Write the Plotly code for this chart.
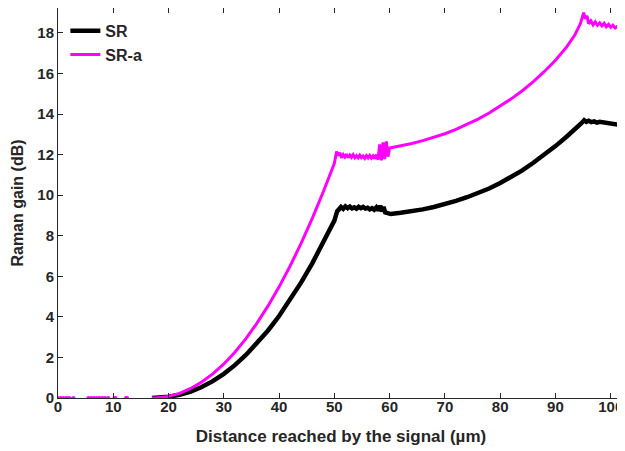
import plotly.graph_objects as go

# SR (black)
sr_x = [17, 18, 19, 20, 22, 24, 26, 28, 30, 32, 34, 36, 38, 40, 42, 44, 46, 48, 49, 50, 50.5,
        50.8, 51.2, 51.6, 52.0, 52.4, 52.8, 53.2, 53.6, 54.0, 54.4, 54.8, 55.2, 55.6, 56.0, 56.4, 56.8, 57.2, 57.6,
        58.0, 58.3, 58.6, 58.9, 59.2, 59.5, 59.8, 60.2, 62, 64, 66, 68, 70, 72, 74, 76, 78, 80, 82, 84, 86,
        88, 90, 92, 93.5, 94.7, 95.2, 95.6, 96, 96.5, 97, 97.5, 98, 98.7, 99.5, 100.3, 101, 101.7, 102.4]
sr_y = [0, 0.01, 0.03, 0.06, 0.16, 0.32, 0.54, 0.83, 1.19, 1.62, 2.12, 2.69, 3.33, 4.04, 4.83, 5.70, 6.64,
        7.66, 8.19, 8.75, 9.2,
        9.3, 9.42, 9.33, 9.45, 9.36, 9.44, 9.35, 9.4, 9.33, 9.43, 9.36, 9.42, 9.34, 9.38, 9.3, 9.36, 9.28, 9.4,
        9.25, 9.48, 9.2, 9.42, 9.15, 9.12, 9.08, 9.07, 9.13, 9.2, 9.3, 9.42, 9.56, 9.72, 9.9, 10.1, 10.33,
        10.6, 10.9, 11.22, 11.6, 12.0, 12.42, 12.88, 13.22, 13.55, 13.7, 13.62, 13.67, 13.6, 13.64, 13.58, 13.62,
        13.58, 13.55, 13.52, 13.5, 13.46, 13.45]

# SR-a (magenta)
sra_x = [17, 18, 20, 22, 24, 26, 28, 30, 32, 34, 36, 38, 40, 42, 44, 46, 48, 49, 50, 50.4,
         50.7, 51.0, 51.3, 51.6, 51.9, 52.2, 52.5, 52.8, 53.1, 53.4, 53.7, 54.0, 54.3, 54.6, 54.9, 55.2, 55.5, 55.8,
         56.1, 56.4, 56.7, 57.0, 57.3, 57.6, 57.9, 58.2, 58.5, 58.8, 59.1, 59.4, 59.7, 60.0, 62, 64, 66, 68,
         70, 72, 74, 76, 78, 80, 82, 84, 86, 88, 90, 92, 93.5, 94.5, 94.9, 95.1, 95.4, 95.7, 96.0, 96.4, 96.8, 97.2,
         97.6, 98.0, 98.4, 98.8, 99.2, 99.6, 100.0, 100.4, 100.8, 101.2, 101.6, 102.0, 102.4]
sra_y = [0, 0.01, 0.08, 0.23, 0.47, 0.79, 1.19, 1.68, 2.26, 2.93, 3.69, 4.54, 5.48, 6.51, 7.64, 8.86, 10.17,
         10.86, 11.57, 12.15,
         11.95, 12.1, 11.85, 12.0, 11.88, 12.02, 11.85, 11.98, 11.87, 12.0, 11.85, 11.95, 11.84, 11.97, 11.85, 11.93,
         11.82, 11.95, 11.84, 11.96, 11.83, 11.94, 11.8, 12.0, 11.75, 12.5, 11.72, 12.6, 11.78, 12.65, 11.9, 12.33,
         12.43, 12.55, 12.69, 12.85, 13.03, 13.24, 13.48, 13.75, 14.05, 14.38, 14.75, 15.15, 15.6, 16.1, 16.65,
         17.3, 17.9, 18.45, 18.9, 19.0, 18.7, 18.85, 18.45, 18.6, 18.4, 18.55, 18.38, 18.5, 18.35, 18.48, 18.3,
         18.42, 18.28, 18.38, 18.25, 18.33, 18.2, 18.3, 18.12]

# SR-a sparse points near zero before the rise
sra0_x = [0, 0.5, 1, 1.5, 2, 2.8, None, 5.5, 6, 6.5, 7, 7.5, 8, 8.5, 9.1, None, 10.2, 10.4, None, 12.3, 12.5]
sra0_y = [0, 0, 0, 0, 0, 0, None, 0, 0, 0, 0, 0, 0, 0, 0, None, 0, 0, None, 0, 0]

x_ticks = [0, 10, 20, 30, 40, 50, 60, 70, 80, 90, 100]
y_ticks = [0, 2, 4, 6, 8, 10, 12, 14, 16, 18]

FONT = "Liberation Sans, Arial, sans-serif"
AX = "#262626"
MAG = "#FF00FF"

fig = go.Figure()
fig.add_trace(go.Scatter(x=sr_x, y=sr_y, mode="lines", name="SR",
                         line=dict(color="black", width=4.5)))
fig.add_trace(go.Scatter(x=sra_x, y=sra_y, mode="lines", name="SR-a",
                         line=dict(color=MAG, width=3)))
fig.add_trace(go.Scatter(x=sra0_x, y=sra0_y, mode="lines+markers", name="SR-a",
                         showlegend=False, line=dict(color=MAG, width=1.5),
                         marker=dict(color=MAG, size=4), connectgaps=False))

axis_common = dict(showline=True, linecolor=AX, linewidth=1, mirror="ticks", ticks="inside",
                   ticklen=5, tickcolor=AX, showgrid=False, zeroline=False, automargin=False,
                   tickfont=dict(family=FONT, size=15, color=AX, weight="bold"))

# page body has an 8px margin, so the figure is sized to fit inside the window
fig.update_layout(
    width=617, height=443,
    margin=dict(l=50, r=1, t=0, b=53),
    paper_bgcolor="white", plot_bgcolor="white",
    showlegend=True,
    legend=dict(x=0.013, y=0.985, xanchor="left", yanchor="top", bgcolor="rgba(0,0,0,0)",
                font=dict(family=FONT, size=16, color=AX, weight="bold"),
                itemwidth=30, tracegroupgap=0),
    xaxis=dict(range=[0, 102.4], tickvals=x_ticks, ticktext=[str(v) for v in x_ticks],
               ticklabelstandoff=-5,
               title=dict(text="Distance reached by the signal (µm)", standoff=16,
                          font=dict(family=FONT, size=17, color=AX, weight="bold")),
               **axis_common),
    yaxis=dict(range=[0, 19.23], tickvals=y_ticks, ticktext=[str(v) for v in y_ticks],
               title=dict(text="Raman gain (dB)", standoff=9,
                          font=dict(family=FONT, size=16, color=AX, weight="bold")),
               **axis_common),
)

fig.write_html("out.html")
